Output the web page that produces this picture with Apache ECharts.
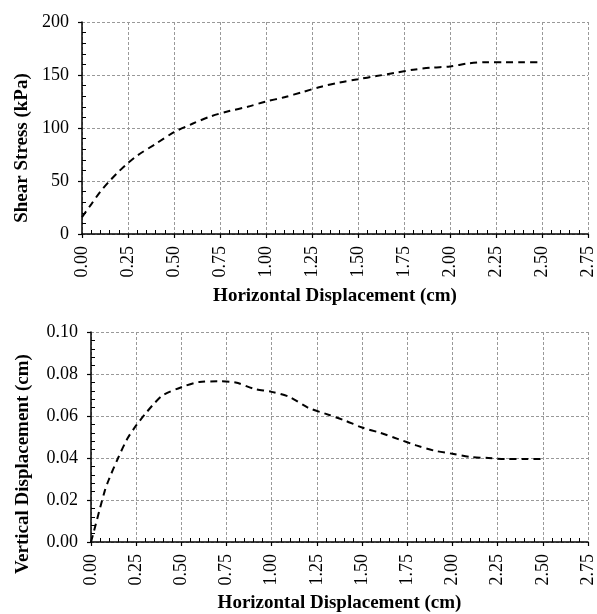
<!DOCTYPE html>
<html>
<head>
<meta charset="utf-8">
<script src="https://cdn.jsdelivr.net/npm/echarts@6/dist/echarts.min.js"></script>
<style>
  html, body { margin: 0; padding: 0; background: #fff; }
  #chart { width: 597px; height: 614px; }
</style>
</head>
<body>
<div id="chart"></div>
<script>
// horizontal displacement (cm) for both curves
var shearX = [0, 0.05, 0.1, 0.15, 0.2, 0.25, 0.3, 0.4, 0.5, 0.6, 0.7, 0.8, 0.9, 1.0, 1.1, 1.2, 1.3, 1.4, 1.5, 1.6, 1.7, 1.8, 1.9, 2.0, 2.1, 2.2, 2.3, 2.4, 2.5];
var shearStress = [16, 28, 40, 50, 59, 67, 74, 85, 96, 104, 111, 116, 120, 125, 129, 134, 139, 143, 146, 149, 152, 155, 157, 158, 161, 162, 162, 162, 162];

var vertX = [0, 0.025, 0.075, 0.1, 0.15, 0.2, 0.25, 0.3, 0.35, 0.4, 0.5, 0.6, 0.7, 0.8, 0.9, 1.0, 1.1, 1.2, 1.3, 1.4, 1.5, 1.6, 1.7, 1.8, 1.9, 2.0, 2.1, 2.2, 2.3, 2.4, 2.5];
var vertDisp = [0, 0.008, 0.024, 0.030, 0.040, 0.049, 0.0555, 0.061, 0.066, 0.070, 0.0737, 0.0762, 0.0765, 0.076, 0.073, 0.0715, 0.069, 0.064, 0.061, 0.058, 0.0545, 0.052, 0.049, 0.046, 0.0435, 0.042, 0.0405, 0.040, 0.0395, 0.0395, 0.0395];

var xName = "Horizontal Displacement (cm)";
var font = "Liberation Serif";

function pairs(xs, ys) {
  return xs.map(function (x, i) { return [x, ys[i]]; });
}

function xAxis(idx, gap) {
  return {
    type: "value", gridIndex: idx, min: 0, max: 2.75, interval: 0.25,
    name: xName, nameLocation: "middle", nameGap: gap,
    nameTextStyle: { fontFamily: font, fontWeight: "bold", fontSize: 19, color: "#000" },
    axisLine: { lineStyle: { color: "#000", width: 1.5 } },
    axisTick: { show: true, length: 4, lineStyle: { color: "#000", width: 1.2 } },
    minorTick: { show: true, splitNumber: 5, length: -4, lineStyle: { color: "#000", width: 1 } },
    axisLabel: {
      rotate: 90, margin: 12, fontFamily: font, fontSize: 18, color: "#000",
      formatter: function (v) { return v.toFixed(2); }
    },
    splitLine: { show: true, lineStyle: { color: "#999", type: [3, 2], width: 1 } }
  };
}

// shift: extra right padding so the rotated name sits lower than the axis centre
function yAxis(idx, min, max, step, name, gap, digits, shift) {
  return {
    type: "value", gridIndex: idx, min: min, max: max, interval: step,
    name: name, nameLocation: "middle", nameGap: gap,
    nameTextStyle: { fontFamily: font, fontWeight: "bold", fontSize: 19, color: "#000", padding: [0, shift, 0, 0] },
    axisLine: { show: true, lineStyle: { color: "#000", width: 1.5 } },
    axisTick: { show: true, length: 4, lineStyle: { color: "#000", width: 1.2 } },
    minorTick: { show: true, splitNumber: 5, length: -4, lineStyle: { color: "#000", width: 1 } },
    axisLabel: {
      margin: 13, fontFamily: font, fontSize: 18, color: "#000",
      formatter: function (v) { return v.toFixed(digits); }
    },
    splitLine: { show: true, lineStyle: { color: "#999", type: [3, 2], width: 1 } }
  };
}

var chart = echarts.init(document.getElementById("chart"));
chart.setOption({
  animation: false,
  grid: [
    { left: 82, top: 22, width: 514, height: 212 },
    { left: 91, top: 332, width: 505, height: 210 }
  ],
  xAxis: [xAxis(0, 53), xAxis(1, 52)],
  yAxis: [
    yAxis(0, 0, 200, 50, "Shear Stress (kPa)", 49, 0, 40),
    yAxis(1, 0, 0.1, 0.02, "Vertical Displacement (cm)", 58, 2, 54)
  ],
  series: [
    {
      type: "line", xAxisIndex: 0, yAxisIndex: 0, symbol: "none", smooth: 0.3,
      lineStyle: { color: "#000", width: 2, type: [7, 5] },
      data: pairs(shearX, shearStress)
    },
    {
      type: "line", xAxisIndex: 1, yAxisIndex: 1, symbol: "none", smooth: 0.3,
      lineStyle: { color: "#000", width: 2, type: [7, 5] },
      data: pairs(vertX, vertDisp)
    }
  ]
});
</script>
</body>
</html>
